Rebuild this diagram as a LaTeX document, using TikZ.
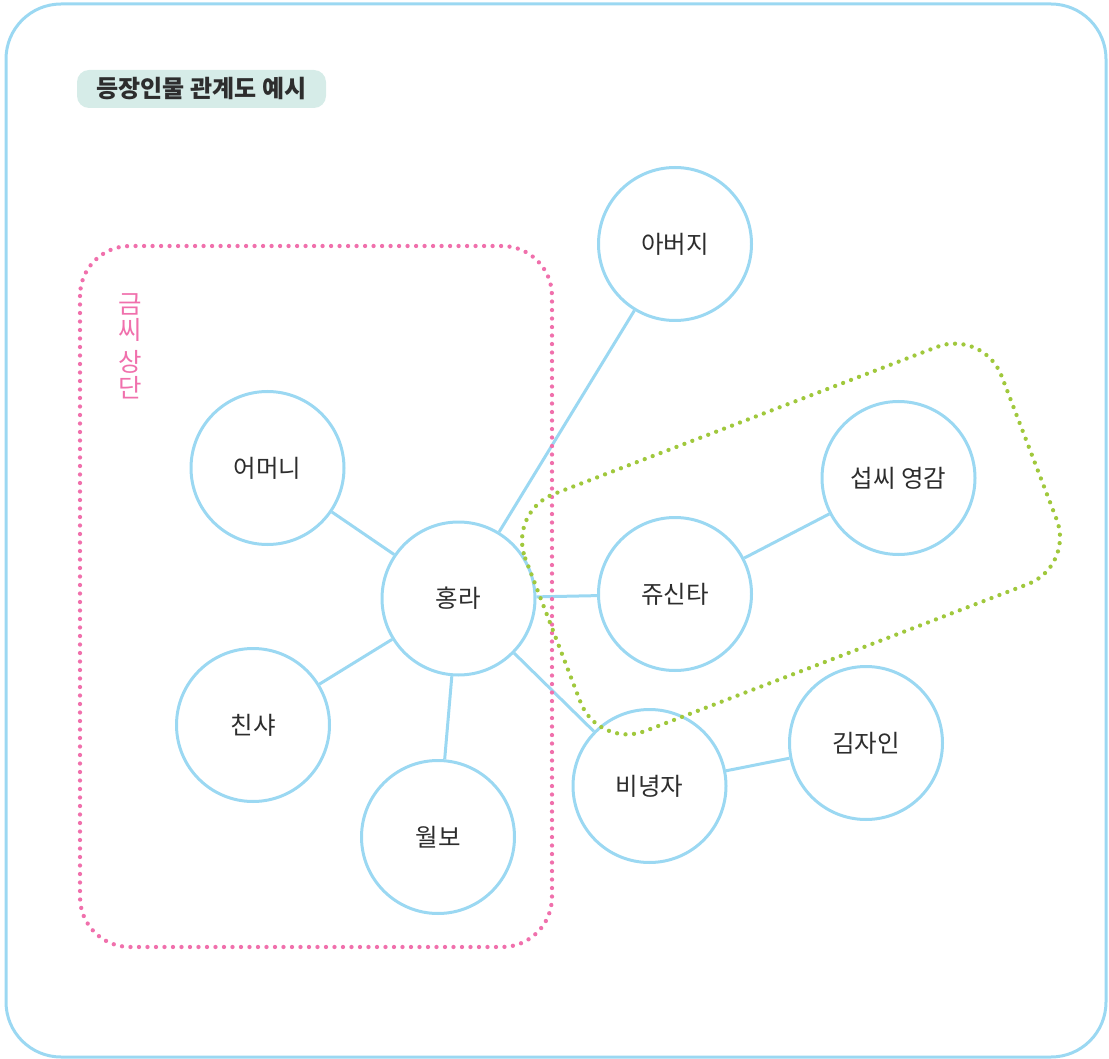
\documentclass[tikz,border=0pt]{standalone}
\usepackage{fontspec}
\setmainfont{Noto Sans CJK KR}
\usepackage{tikz}
\usetikzlibrary{positioning}
\usepackage{xcolor}
\definecolor{linkblue}{RGB}{155,216,242}
\definecolor{sangdan}{RGB}{240,112,172}
\definecolor{groupgreen}{RGB}{160,200,60}
\definecolor{titlebg}{RGB}{214,236,232}
\definecolor{txtgray}{RGB}{45,45,45}
\tikzset{person/.style={circle,draw=linkblue,line width=3pt,minimum size=153pt,inner sep=0pt,text=txtgray,font=\fontsize{24.5}{28}\selectfont},
link/.style={draw=linkblue,line width=3pt},
dots/.style={line width=4.3pt,line cap=round,dash pattern=on 0pt off 8.5pt}}

\begin{document}
\begin{tikzpicture}[x=1pt,y=-1pt]
\useasboundingbox (0,0) rectangle (1109,1059);
\draw[link,rounded corners=55pt] (6,4) rectangle (1106,1057);
\node[fill=titlebg,rounded corners=12pt,minimum width=249pt,minimum height=38pt,inner sep=0pt,text=txtgray,font=\fontsize{24}{26}\selectfont\bfseries] (title) at (201.5,89) {등장인물 관계도 예시};
\node[person] (abeoji) at (675,244) {아버지};
\node[person] (eomeoni) at (267.5,468) {어머니};
\node[person] (hongra) at (458.5,598.5) {홍라};
\node[person] (jusinta) at (675,594) {쥬신타};
\node[person] (seopssi) at (898.5,478) {섭씨 영감};
\node[person] (chinsya) at (253,725) {친샤};
\node[person] (wolbo) at (438,837) {월보};
\node[person] (binyeongja) at (649.5,786) {비녕자};
\node[person] (gimjain) at (866,743) {김자인};
\draw[link] (hongra)--(abeoji);
\draw[link] (hongra)--(eomeoni);
\draw[link] (hongra)--(chinsya);
\draw[link] (hongra)--(wolbo);
\draw[link] (hongra)--(jusinta);
\draw[link] (hongra)--(binyeongja);
\draw[link] (jusinta)--(seopssi);
\draw[link] (binyeongja)--(gimjain);
\draw[dots,sangdan,rounded corners=50pt] (80,246) rectangle (552,947);
\node[text=sangdan,align=center,font=\fontsize{25.5}{26}\selectfont] (geumssi) at (130,346) {금\\씨\\[6pt]상\\단};
\begin{scope}[shift={(791,539)},rotate=21]
\draw[dots,groupgreen,rounded corners=50pt] (-255,-127) rectangle (255,127);
\end{scope}
\end{tikzpicture}
\end{document}
